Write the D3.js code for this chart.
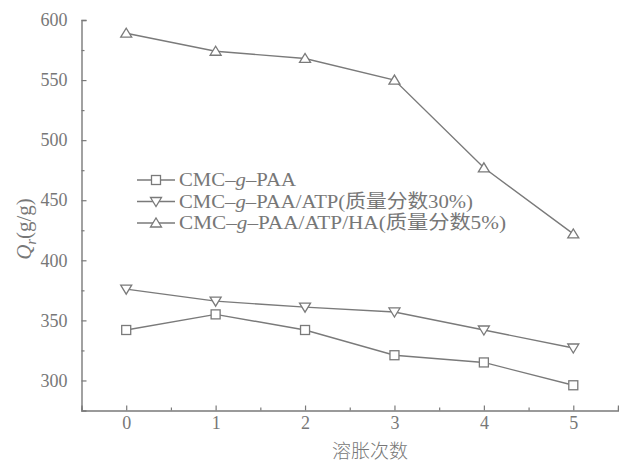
<!DOCTYPE html>
<html><head><meta charset="utf-8">
<script src="https://cdn.jsdelivr.net/npm/d3@7"></script>
<style>body{margin:0;background:#fff}svg{display:block}</style>
</head><body>
<svg id="c" width="619" height="464"></svg>
<script>
const cycles = [0, 1, 2, 3, 4, 5];
const cmcPaa = [342, 355, 342, 321, 315, 296];
const cmcPaaAtp = [376, 366, 361, 357, 342, 327];
const cmcPaaAtpHa = [589, 574, 568, 550, 477, 422];
const seriesNames = ["CMC\u2013g\u2013PAA", "CMC\u2013g\u2013PAA/ATP(质量分数30%)", "CMC\u2013g\u2013PAA/ATP/HA(质量分数5%)"];
const seriesMarkers = ["square", "down", "up"];
const yTicks = [300, 350, 400, 450, 500, 550, 600];
const xTicks = [0, 1, 2, 3, 4, 5];

const gray = "#7a7a7a";
const svg = d3.select("#c");
const x = d3.scaleLinear().domain([-0.5, 5.5]).range([81.5, 618]);
const y = d3.scaleLinear().domain([275, 600]).range([410.5, 20]);
const serif = "'Liberation Serif','DejaVu Serif',serif";

// axes
const xAxis = svg.append("g").attr("transform", `translate(0,${y.range()[0]})`)
  .call(d3.axisBottom(x).tickValues(xTicks).tickSize(-5).tickPadding(6).tickFormat(d3.format("d")));
const xMinor = svg.append("g").attr("transform", `translate(0,${y.range()[0]})`)
  .call(d3.axisBottom(x).tickValues([-0.5,0.5,1.5,2.5,3.5,4.5,5.5]).tickSize(-3).tickFormat(""));
const yAxis = svg.append("g").attr("transform", `translate(${x.range()[0]},0)`)
  .call(d3.axisLeft(y).tickValues(yTicks).tickSize(-5).tickPadding(14).tickFormat(d3.format("d")));
const yMinor = svg.append("g").attr("transform", `translate(${x.range()[0]},0)`)
  .call(d3.axisLeft(y).tickValues([325,375,425,475,525,575]).tickSize(-3).tickFormat(""));
[xAxis, xMinor, yAxis, yMinor].forEach(g => {
  g.select(".domain").attr("stroke", gray).attr("stroke-width", 1.4);
  g.selectAll(".tick line").attr("stroke", gray).attr("stroke-width", 1.2);
  g.selectAll(".tick text").attr("fill", "#777").attr("font-family", serif).attr("font-size", 18);
});
xMinor.select(".domain").remove(); yMinor.select(".domain").remove();

// marker drawing
function marker(g, type, cx, cy) {
  if (type === "square") {
    g.append("rect").attr("x", cx - 4.5).attr("y", cy - 4.5).attr("width", 9).attr("height", 9)
      .attr("fill", "#fff").attr("stroke", gray).attr("stroke-width", 1.3);
  } else {
    const s = type === "up" ? -1 : 1;
    const pts = [[cx - 5.5, cy - s * 4], [cx + 5.5, cy - s * 4], [cx, cy + s * 5]];
    g.append("path").attr("d", "M" + pts.map(p => p.join(",")).join("L") + "Z")
      .attr("fill", "#fff").attr("stroke", gray).attr("stroke-width", 1.3);
  }
}

const allSeries = [cmcPaa, cmcPaaAtp, cmcPaaAtpHa];
const line = d3.line().x((d, i) => x(cycles[i])).y(d => y(d));
allSeries.forEach((vals, si) => {
  const g = svg.append("g");
  g.append("path").datum(vals).attr("d", line).attr("fill", "none").attr("stroke", gray).attr("stroke-width", 1.4);
  vals.forEach((v, i) => marker(g, seriesMarkers[si], x(cycles[i]), y(v)));
});

// legend
const legendRows = [180, 201.5, 223];
const legendWidths = [117, 294, 327];
seriesNames.forEach((name, i) => {
  const g = svg.append("g");
  const ly = legendRows[i];
  g.append("line").attr("x1", 137).attr("x2", 175).attr("y1", ly).attr("y2", ly)
    .attr("stroke", gray).attr("stroke-width", 1.3);
  marker(g, seriesMarkers[i], 156, ly);
  g.append("text").attr("x", 179).attr("y", ly + 6).attr("fill", "#777")
    .attr("font-family", serif + ",'Noto Sans CJK SC'").attr("font-size", 19)
    .attr("textLength", legendWidths[i]).attr("lengthAdjust", "spacingAndGlyphs")
    .each(function() {
      const t = d3.select(this);
      const parts = name.split("g");
      t.append("tspan").text(parts[0]);
      t.append("tspan").attr("font-style", "italic").text("g");
      t.append("tspan").text(parts.slice(1).join("g"));
    });
});

// axis titles
svg.append("text").attr("x", 370).attr("y", 458).attr("text-anchor", "middle")
  .attr("fill", "#777").attr("font-family", "'Noto Sans CJK SC'").attr("font-size", 19).attr("font-weight", 300)
  .text("溶胀次数");
const yl = svg.append("text").attr("transform", "translate(31,229) rotate(-90)").attr("text-anchor", "middle")
  .attr("fill", "#777").attr("font-family", serif).attr("font-size", 21);
yl.append("tspan").attr("font-style", "italic").text("Q");
yl.append("tspan").attr("font-style", "italic").attr("font-size", 14).attr("dy", 5).text("r");
yl.append("tspan").attr("dy", -5).text("(g/g)");
</script>
</body></html>
